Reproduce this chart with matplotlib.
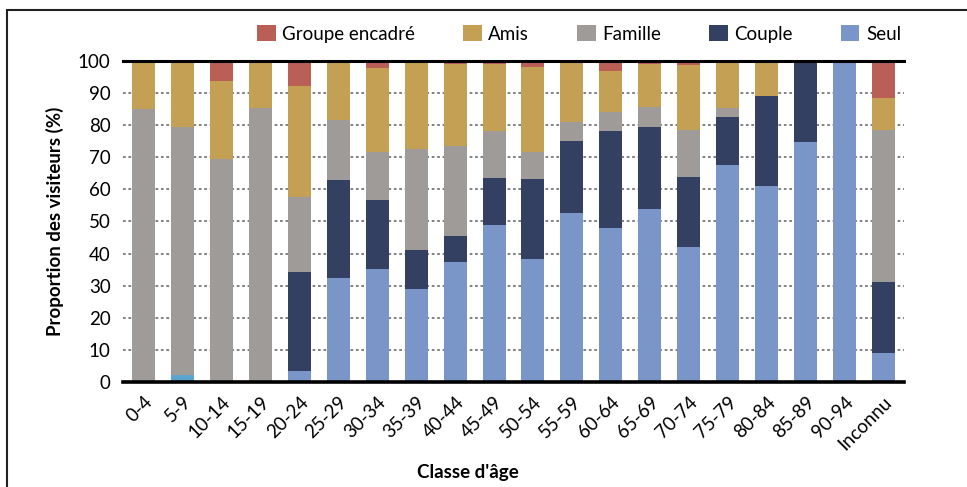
import matplotlib
matplotlib.use("Agg")
import matplotlib.pyplot as plt
from matplotlib.patches import Rectangle
import numpy as np

plt.rcParams['font.family'] = ['Lato', 'DejaVu Sans']

categories = ['0-4', '5-9', '10-14', '15-19', '20-24', '25-29', '30-34', '35-39',
              '40-44', '45-49', '50-54', '55-59', '60-64', '65-69', '70-74', '75-79',
              '80-84', '85-89', '90-94', 'Inconnu']
seul    = [0, 2.1, 0, 0, 3.5, 32.5, 35.3, 29.0, 37.4, 49.0, 38.4, 52.7, 48.0, 53.9, 42.1, 67.6, 61.1, 74.8, 100, 9.1]
couple  = [0, 0, 0, 0, 30.8, 30.5, 21.4, 12.2, 8.1, 14.6, 24.9, 22.4, 30.2, 25.6, 21.8, 15.0, 28.0, 25.2, 0, 22.1]
famille = [85.0, 77.3, 69.5, 85.4, 23.4, 18.6, 15.1, 31.3, 28.0, 14.6, 8.5, 5.9, 5.9, 6.1, 14.6, 2.8, 0, 0, 0, 47.3]
amis    = [15.0, 20.6, 24.3, 14.6, 34.5, 18.4, 26.0, 27.5, 25.6, 20.9, 26.3, 19.0, 12.8, 13.5, 20.3, 14.6, 10.9, 0, 0, 10.0]
groupe  = [0, 0, 6.2, 0, 7.8, 0, 2.2, 0, 0.9, 0.9, 1.9, 0, 3.1, 0.9, 1.2, 0, 0, 0, 0, 11.5]
series_names = ['Seul', 'Couple', 'Famille', 'Amis', 'Groupe encadré']
yticks = list(range(0, 101, 10))

colors = {'Seul': '#7A95C7', 'Couple': '#344061', 'Famille': '#9F9B98',
          'Amis': '#C4A055', 'Groupe encadré': '#B95F55'}

fig = plt.figure(figsize=(9.67, 4.87), dpi=100)
ax = fig.add_axes([123/967, 1-382/487, 781/967, 321/487])

x = np.arange(len(categories))
bottom = np.zeros(len(categories))
handles = {}
for name, vals in zip(series_names, [seul, couple, famille, amis, groupe]):
    vals = np.array(vals, dtype=float)
    bars = ax.bar(x, vals, bottom=bottom, width=0.59, color=colors[name],
                  label=name, zorder=2, linewidth=0)
    handles[name] = bars
    if name == 'Seul':
        bars[1].set_facecolor('#5CA5D0')
    bottom += vals

ax.set_xlim(-0.53, len(categories) - 0.47)
ax.set_ylim(0, 100)
ax.set_yticks(yticks)
ax.set_yticklabels([str(v) for v in yticks], fontsize=13.5)
for v in yticks[1:-1]:
    ax.axhline(v, color='#777777', linestyle=(0, (1.5, 1.5)), linewidth=1.3, zorder=1)
ax.axhline(100, color='black', linewidth=2.2, zorder=3, clip_on=False)
ax.axhline(0, color='black', linewidth=2.6, zorder=3, clip_on=False)

ax.set_xticks(x)
ax.set_xticklabels(categories, rotation=45, ha='right', va='top',
                   rotation_mode='anchor', fontsize=13.5)
ax.tick_params(axis='both', length=0)
ax.tick_params(axis='y', pad=9)
ax.tick_params(axis='x', pad=8)
for s in ax.spines.values():
    s.set_visible(False)

ax.set_ylabel('Proportion des visiteurs (%)', fontsize=13.5, fontweight='bold', labelpad=10)
ax.set_xlabel("Classe d'âge", fontsize=13.5, fontweight='bold', labelpad=6)
ax.xaxis.set_label_coords((468-123)/781, (382-464)/321)

order = ['Groupe encadré', 'Amis', 'Famille', 'Couple', 'Seul']
leg = fig.legend([handles[n] for n in order], order, ncol=5, loc='center',
                 bbox_to_anchor=(579/967, 1-34/487), frameon=False, fontsize=13.5,
                 handlelength=1.0, handleheight=0.9, handletextpad=0.35,
                 columnspacing=2.55, borderaxespad=0)

fig.patches.append(Rectangle((7/967, -0.2), 1.2, 1.2 - 10/487 + 0.0,
                             transform=fig.transFigure, fill=False,
                             edgecolor='#222222', linewidth=1.5))

fig.savefig('out.png', dpi=100)
